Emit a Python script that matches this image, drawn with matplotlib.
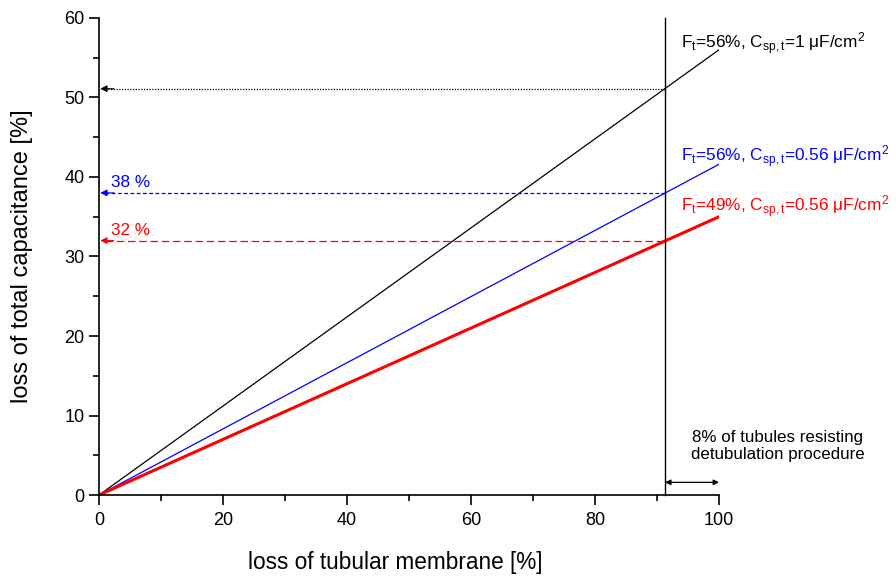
import matplotlib.pyplot as plt
from matplotlib.ticker import MultipleLocator

plt.rcParams['font.family'] = ['Liberation Sans', 'DejaVu Sans']
plt.rcParams['mathtext.fontset'] = 'custom'
plt.rcParams['mathtext.rm'] = 'Liberation Sans'
plt.rcParams['mathtext.it'] = 'Liberation Sans:italic'

# loss of tubular membrane [%] -> loss of total capacitance [%]
x_end = [0, 100]
y_black = [0, 56]
y_blue = [0, 41.6]
y_red = [0, 35]

# fraction of tubules that get removed by detubulation
x_cut = 91.3
y_cut = [51.1, 38, 32]
cut_colors = ['black', 'blue', 'red']
cut_styles = [(0, (1, 1.2)), (0, (3, 2)), (0, (6, 3))]
cut_labels = ['', '38 %', '32 %']

curve_labels = [
    r'F$_\mathrm{t}$=56%, C$_\mathrm{sp,t}$=1 μF/cm$^\mathrm{2}$',
    r'F$_\mathrm{t}$=56%, C$_\mathrm{sp,t}$=0.56 μF/cm$^\mathrm{2}$',
    r'F$_\mathrm{t}$=49%, C$_\mathrm{sp,t}$=0.56 μF/cm$^\mathrm{2}$',
]
label_y = [56.8, 42.6, 36.3]

fig = plt.figure(figsize=(8.96, 5.79), dpi=100)
ax = fig.add_axes([0.1105, 0.145, 0.692, 0.824])

ax.plot(x_end, y_black, color='black', lw=0.9)
ax.plot(x_end, y_blue, color='blue', lw=0.9)
ax.plot(x_end, y_red, color='red', lw=2.2)

ax.plot([x_cut, x_cut], [0, 60], color='black', lw=1.0, clip_on=False)

for yc, c, ls, lab in zip(y_cut, cut_colors, cut_styles, cut_labels):
    ax.plot([0.9, x_cut], [yc, yc], color=c, lw=0.9, linestyle=ls)
    ax.annotate('', xy=(0.2, yc), xytext=(2.4, yc),
                arrowprops=dict(arrowstyle='-|>', color=c, lw=0.8,
                                mutation_scale=10, shrinkA=0, shrinkB=0))
    if lab:
        ax.text(1.9, yc + 0.3, lab, color=c, fontsize=12.3, va='bottom', ha='left')

for lab, ly, c in zip(curve_labels, label_y, cut_colors):
    ax.text(93.9, ly, lab, color=c, fontsize=12.4, ha='left', va='center',
            clip_on=False)

ax.annotate('', xy=(x_cut, 1.6), xytext=(100, 1.6),
            arrowprops=dict(arrowstyle='<|-|>', color='black', lw=0.9,
                            mutation_scale=8, shrinkA=0, shrinkB=0))
ax.text(109.5, 6.2, '8% of tubules resisting\ndetubulation procedure',
        fontsize=12.2, ha='center', va='center', linespacing=1.2,
        clip_on=False)

ax.set_xlim(0, 100)
ax.set_ylim(0, 60)
ax.xaxis.set_major_locator(MultipleLocator(20))
ax.xaxis.set_minor_locator(MultipleLocator(10))
ax.yaxis.set_major_locator(MultipleLocator(10))
ax.yaxis.set_minor_locator(MultipleLocator(5))
ax.tick_params(which='major', direction='out', length=7, width=1.2, labelsize=13)
ax.tick_params(axis='x', which='major', pad=5)
ax.tick_params(which='minor', direction='out', length=4, width=1.2)
for s in ['top', 'right']:
    ax.spines[s].set_visible(False)
for s in ['left', 'bottom']:
    ax.spines[s].set_linewidth(1.2)

ax.set_xlabel('loss of tubular membrane [%]', fontsize=16.3)
ax.set_ylabel('loss of total capacitance [%]', fontsize=17)
ax.xaxis.set_label_coords(0.477, -0.117)
ax.yaxis.set_label_coords(-0.106, 0.5)

fig.savefig('out.png', dpi=100)
